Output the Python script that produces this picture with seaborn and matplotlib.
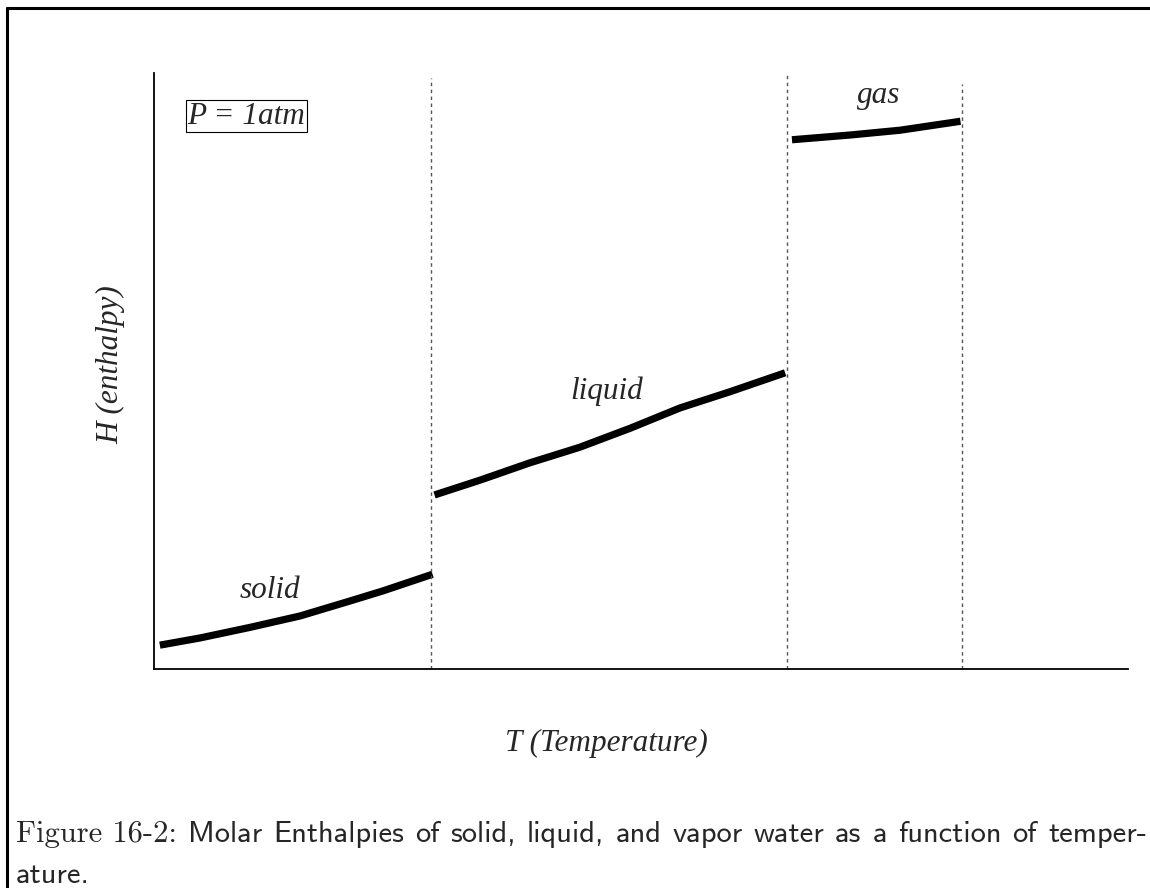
import numpy as np
import pandas as pd
import seaborn as sns
import matplotlib.pyplot as plt
from matplotlib.lines import Line2D

# values, arbitrary units (both axes run 0..10)
solid_T = [0.06, 0.47, 0.99, 1.50, 2.01, 2.35, 2.86]
solid_H = [0.40, 0.52, 0.70, 0.89, 1.14, 1.31, 1.59]
liquid_T = [2.88, 3.35, 3.86, 4.37, 4.89, 5.40, 5.91, 6.48]
liquid_H = [2.92, 3.17, 3.46, 3.72, 4.04, 4.38, 4.65, 4.97]
gas_T = [6.55, 7.15, 7.66, 8.28]
gas_H = [8.88, 8.96, 9.04, 9.19]
phase_names = ['solid', 'liquid', 'gas']
boundary_T = [2.84, 6.50, 8.30]
boundary_top = [9.92, 9.97, 9.82]

caption_head = "Figure 16-2:"
caption_line1 = "Molar Enthalpies of solid, liquid, and vapor water as a function of temper-"
caption_line2 = "ature."

sns.set_style("white")
plt.rcParams['font.family'] = ['Liberation Serif', 'DejaVu Serif']

W, H = 1150, 888
fig = plt.figure(figsize=(W / 100, H / 100), dpi=100)
ax = fig.add_axes([154 / W, 1 - 669 / H, (1128 - 154) / W, (669 - 73) / H])


def fx(px):
    return px / W


def fy(py):
    return 1 - py / H


df = pd.concat([
    pd.DataFrame({'T': solid_T, 'H': solid_H, 'phase': 'solid'}),
    pd.DataFrame({'T': liquid_T, 'H': liquid_H, 'phase': 'liquid'}),
    pd.DataFrame({'T': gas_T, 'H': gas_H, 'phase': 'gas'}),
])
for name in phase_names:
    sns.lineplot(data=df[df['phase'] == name], x='T', y='H', sort=False,
                 color='black', linewidth=5.2, ax=ax, legend=False,
                 solid_capstyle='butt', solid_joinstyle='round')

for t, top in zip(boundary_T, boundary_top):
    ax.plot([t, t], [0, top], color='#555555', linewidth=1.0,
            linestyle=(0, (2.5, 2.5)), clip_on=False)

ax.set_xlim(0, 10)
ax.set_ylim(0, 10)
ax.set_xticks([])
ax.set_yticks([])
ax.set_xlabel('')
ax.set_ylabel('')
for side in ['top', 'right']:
    ax.spines[side].set_visible(False)
for side in ['left', 'bottom']:
    ax.spines[side].set_color('black')
    ax.spines[side].set_linewidth(1.3)

lab = dict(fontsize=22.5, style='italic', ha='center', va='center')
fig.text(fx(270), fy(590), 'solid', **lab)
fig.text(fx(607), fy(391), 'liquid', **lab)
fig.text(fx(879), fy(96), 'gas', **lab)
fig.text(fx(246), fy(116), 'P = 1atm', **lab,
         bbox=dict(boxstyle='square,pad=0.05', fc='white', ec='black', lw=0.8))
fig.text(fx(606), fy(743), 'T (Temperature)', **lab)
fig.text(fx(111), fy(365), 'H (enthalpy)', rotation=90, **lab)

# page border (left and top edges)
fig.add_artist(Line2D([fx(7), fx(7)], [0, fy(8)], color='black', lw=2.2,
                      transform=fig.transFigure))
fig.add_artist(Line2D([fx(7), 1], [fy(8), fy(8)], color='black', lw=2.2,
                      transform=fig.transFigure))

# caption: roman head, sans body, first line justified between x=16 and x=1147
cap_size = 22
words = [(caption_head, 'cmr10')] + [(w, 'cmss10') for w in caption_line1.split()]
texts = [fig.text(0, fy(842), w, family=f, fontsize=cap_size, va='baseline', ha='left')
         for w, f in words]
fig.canvas.draw()
r = fig.canvas.get_renderer()
widths = [t.get_window_extent(r).width for t in texts]
gap = (1147 - 16 - sum(widths)) / (len(texts) - 1)
x = 16
for t, w in zip(texts, widths):
    t.set_x(x / W)
    x += w + gap
fig.text(fx(16), fy(883), caption_line2, family='cmss10', fontsize=cap_size,
         va='baseline', ha='left')

fig.savefig('out.png', dpi=100)
